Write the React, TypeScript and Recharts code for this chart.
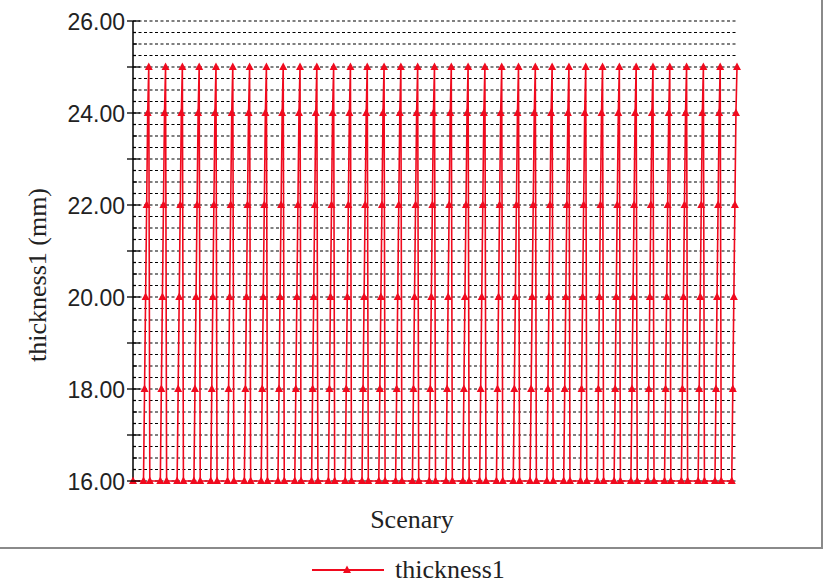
import { LineChart, Line, XAxis, YAxis, CartesianGrid } from "recharts";

// one scenario block: thickness1 sits at 16 mm, then steps up to 25 mm
const thicknessCycle = [16, 16, 16, 16, 16, 16, 16, 16, 16, 16, 16, 18, 20, 22, 24, 25];
const scenarioBlocks = 36;

const yTicks = [
  16, 16.25, 16.5, 16.75, 17, 17.25, 17.5, 17.75, 18, 18.25, 18.5, 18.75, 19, 19.25, 19.5, 19.75,
  20, 20.25, 20.5, 20.75, 21, 21.25, 21.5, 21.75, 22, 22.25, 22.5, 22.75, 23, 23.25, 23.5, 23.75,
  24, 24.25, 24.5, 24.75, 25, 25.25, 25.5, 25.75, 26,
];
const labelledTicks = [16, 18, 20, 22, 24, 26];

const data = Array.from({ length: scenarioBlocks }).flatMap((_, b) =>
  thicknessCycle.map((v, j) => ({ scenario: b * thicknessCycle.length + j + 1, thickness1: v }))
);

const RED = "#f00a1e";
const SERIF = "'Liberation Serif', 'Times New Roman', serif";
const SANS = "'Liberation Sans', Arial, sans-serif";

function ThicknessTick(props: any) {
  const { x, y, payload } = props;
  const v = payload.value as number;
  const isInt = Number.isInteger(v);
  const isHalf = !isInt && Number.isInteger(v * 2);
  const left = isInt ? 6 : 0;
  const right = isInt ? 7 : isHalf ? 4 : 3;
  return (
    <g>
      <line x1={x - left} x2={x + right} y1={y} y2={y} stroke="#000" strokeWidth={1.3} />
      {labelledTicks.includes(v) && (
        <text
          x={x - 8}
          y={y}
          dy={9}
          textAnchor="end"
          fontFamily={SANS}
          fontSize={23}
          fill="#222"
        >
          {v.toFixed(2)}
        </text>
      )}
    </g>
  );
}

function TriangleDot(props: any) {
  const { cx, cy, index } = props;
  const v = data[index]?.thickness1;
  const prev = data[index - 1]?.thickness1;
  const next = data[index + 1]?.thickness1;
  if (v === prev && v === next) return <g key={index} />;
  return (
    <path
      key={index}
      d={`M${cx},${cy - 4.5}L${cx + 4},${cy + 3}L${cx - 4},${cy + 3}Z`}
      fill={RED}
    />
  );
}

export default function App() {
  return (
    <div
      style={{
        position: "absolute",
        left: 0,
        top: 0,
        width: 831,
        height: 585,
        background: "#fff",
        overflow: "hidden",
      }}
    >
      {/* frame round the plot */}
      <div
        style={{
          position: "absolute",
          left: 0,
          top: -4,
          width: 821,
          height: 551,
          borderRight: "2px solid #8a8a8a",
          borderBottom: "2px solid #8a8a8a",
        }}
      />
      <div style={{ position: "absolute", left: 0, top: 0 }}>
        <LineChart
          width={831}
          height={585}
          data={data}
          margin={{ top: 21, right: 94, bottom: 74, left: 0 }}
        >
          <CartesianGrid vertical={false} stroke="#000" strokeWidth={1.2} strokeDasharray="3 2.5" />
          <XAxis
            dataKey="scenario"
            height={30}
            tick={false}
            tickLine={false}
            axisLine={false}
            label={{
              content: () => (
                <text x={412} y={528} textAnchor="middle" fontFamily={SERIF} fontSize={26} fill="#222">
                  Scenary
                </text>
              ),
            }}
          />
          <YAxis
            width={133}
            domain={[16, 26]}
            ticks={yTicks}
            interval={0}
            tickSize={0}
            tickMargin={0}
            tickLine={false}
            tick={<ThicknessTick />}
            axisLine={{ stroke: "#000", strokeWidth: 1.5 }}
            label={{
              content: () => (
                <text
                  x={0}
                  y={0}
                  transform="translate(46, 275) rotate(-90)"
                  textAnchor="middle"
                  fontFamily={SERIF}
                  fontSize={26}
                  fill="#222"
                >
                  thickness1 (mm)
                </text>
              ),
            }}
          />
          <Line
            type="linear"
            dataKey="thickness1"
            stroke={RED}
            strokeWidth={1.6}
            dot={<TriangleDot />}
            activeDot={false}
            isAnimationActive={false}
          />
        </LineChart>
      </div>
      {/* legend */}
      <div
        style={{
          position: "absolute",
          left: 310,
          top: 555,
          display: "flex",
          alignItems: "center",
          fontFamily: SERIF,
          fontSize: 26,
          color: "#222",
        }}
      >
        <svg width={76} height={16} style={{ marginRight: 9 }}>
          <line x1={2} x2={74} y1={8} y2={8} stroke={RED} strokeWidth={2} />
          <path d="M37,3.5L41,11L33,11Z" fill={RED} />
        </svg>
        <span>thickness1</span>
      </div>
    </div>
  );
}
